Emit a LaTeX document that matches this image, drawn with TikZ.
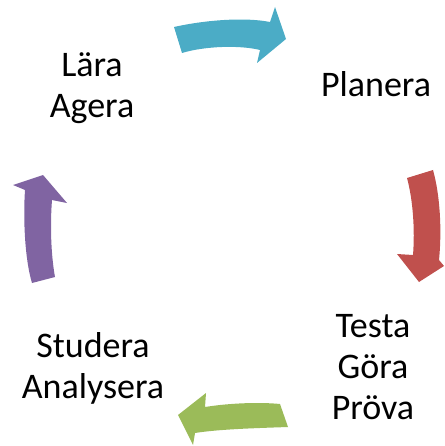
\documentclass[tikz,border=0pt]{standalone}
\usepackage{fontspec}
\setmainfont{Carlito}
\usepackage{tikz}

\definecolor{cycleblue}{HTML}{4BACC6}
\definecolor{cyclered}{HTML}{C0504D}
\definecolor{cyclegreen}{HTML}{9BBB59}
\definecolor{cyclepurple}{HTML}{8064A2}

\begin{document}
\begin{tikzpicture}[x=1pt,y=-1pt,
	steptext/.style={align=center,inner sep=0pt,anchor=base,font=\fontsize{36}{41}\selectfont}]
	\useasboundingbox (0,0) rectangle (444,446);

	% arrows of the cycle
	\fill[cycleblue] (174,27) .. controls (205,20) and (245,17) .. (270,22)
		-- (275,7) -- (286,39) -- (257,63) -- (260,50)
		.. controls (240,45) and (205,46) .. (182,53) -- cycle;
	\fill[cyclered] (407,178) -- (433,170) .. controls (440,195) and (442,230) .. (439,260)
		-- (444,266) -- (419,282) -- (397,254) -- (413,255)
		.. controls (415,230) and (413,200) .. (407,178) -- cycle;
	\fill[cyclegreen] (280,404) .. controls (260,402) and (230,403) .. (205,407)
		-- (206,393) -- (178,415) -- (193,445) -- (195,433)
		.. controls (220,429) and (260,428) .. (288,427) -- cycle;
	\fill[cyclepurple] (32,283) .. controls (25,260) and (23,220) .. (25,190)
		-- (13,185) -- (43,175) -- (67,203) -- (52,200)
		.. controls (50,225) and (51,255) .. (55,277) -- cycle;

	% texts (base = last line)
	\node[steptext] (lara) at (92,118) {Lära\\Agera};
	\node[steptext] (planera) at (376,97) {Planera};
	\node[steptext] (testa) at (373,419) {Testa\\Göra\\Pröva};
	\node[steptext] (studera) at (93,398) {Studera\\Analysera};
\end{tikzpicture}
\end{document}
